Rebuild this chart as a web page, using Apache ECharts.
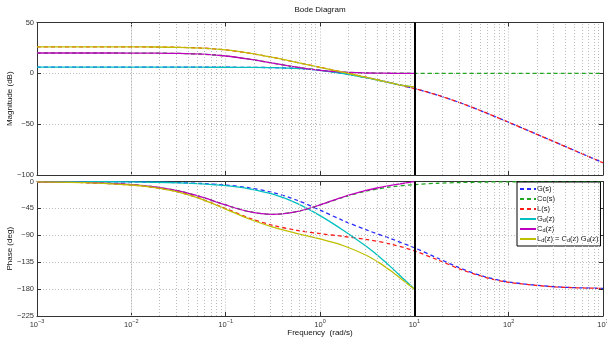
<!DOCTYPE html>
<html>
<head>
<meta charset="utf-8">
<script src="https://cdn.jsdelivr.net/npm/echarts@6/dist/echarts.min.js"></script>
<style>
  html, body { margin: 0; padding: 0; background: #fff; }
  #chart { width: 607px; height: 338px; }
</style>
</head>
<body>
<div id="chart"></div>
<script>
// continuous-time responses (rad/s, dB, deg)
const freqS = [0.001, 0.003162, 0.01, 0.01778, 0.03162, 0.05623, 0.1, 0.1778, 0.3162, 0.5623,
  1, 1.778, 3.162, 5.623, 10, 17.78, 31.62, 56.23, 100, 316.2, 1000]
const magG = [6.02, 6.02, 6.02, 6.02, 6.02, 6.01, 5.98, 5.88, 5.61, 4.82,
  3.0, -0.21, -4.5, -9.45, -14.99, -21.52, -29.43, -38.48, -48.13, -67.98, -87.96]
const phG = [-0.06, -0.19, -0.6, -1.07, -1.9, -3.38, -6.0, -10.59, -18.45, -30.96,
  -47.86, -65.73, -81.44, -95.62, -110.86, -128.43, -145.88, -159.4, -168.12, -176.2, -178.8]
const magCc = [20.0, 20.0, 19.96, 19.87, 19.59, 18.82, 17.03, 13.94, 10.0, 6.06,
  2.97, 1.18, 0.41, 0.13, 0.04, 0.01, 0, 0, 0, 0, 0]
const phCc = [-0.52, -1.63, -5.14, -9.07, -15.74, -26.13, -39.29, -50.57, -54.9, -50.57,
  -39.29, -26.13, -15.74, -9.07, -5.14, -2.9, -1.63, -0.92, -0.52, -0.16, -0.05]
const magL = [26.02, 26.02, 25.98, 25.89, 25.61, 24.83, 23.01, 19.83, 15.61, 10.88,
  5.97, 0.97, -4.09, -9.31, -14.95, -21.51, -29.42, -38.48, -48.13, -67.98, -87.96]
const phL = [-0.58, -1.82, -5.74, -10.13, -17.64, -29.51, -45.29, -61.16, -73.36, -81.53,
  -87.15, -91.86, -97.17, -104.69, -115.99, -131.32, -147.51, -160.32, -168.63, -176.36, -178.85]

// discrete-time responses, up to the Nyquist frequency
const freqZ = [0.001, 0.003162, 0.01, 0.01778, 0.03162, 0.05623, 0.1, 0.1778, 0.3162, 0.5623,
  1, 1.778, 3.162, 4.217, 5.623, 7.499, 8.913, 10]
const magGd = [6.02, 6.02, 6.02, 6.02, 6.02, 6.01, 5.98, 5.88, 5.61, 4.82,
  2.99, -0.23, -4.55, -6.97, -9.46, -11.8, -12.79, -13.03]
const phGd = [-0.07, -0.21, -0.69, -1.23, -2.18, -3.89, -6.9, -12.19, -21.3, -36.12,
  -57.01, -81.91, -109.69, -125.44, -142.84, -161.33, -172.42, -180]
const magCd = [20.0, 20.0, 19.96, 19.87, 19.59, 18.82, 17.03, 13.94, 10.0, 6.05,
  2.93, 1.13, 0.35, 0.17, 0.07, 0.02, 0.0, 0.0]
const phCd = [-0.52, -1.63, -5.14, -9.07, -15.74, -26.13, -39.29, -50.57, -54.9, -50.53,
  -39.1, -25.57, -14.5, -10.23, -6.61, -3.35, -1.4, 0]
const magLd = [26.02, 26.02, 25.98, 25.89, 25.61, 24.83, 23.01, 19.82, 15.61, 10.87,
  5.92, 0.9, -4.2, -6.8, -9.39, -11.78, -12.79, -13.03]
const phLd = [-0.59, -1.84, -5.83, -10.3, -17.92, -30.02, -46.19, -62.76, -76.2, -86.65,
  -96.11, -107.48, -124.19, -135.67, -149.45, -164.68, -173.82, -180]

const nyquist = 10
const magTicks = { min: -100, max: 50, interval: 50 }
const phTicks = { min: -225, max: 0, interval: 45 }

const font = "'Liberation Sans', Arial, sans-serif"
const frameColor = '#333'
const gridColor = '#bbb'

// minor log grid lines (2..9 per decade)
const minorX = []
for (let e = -3; e < 3; e++) {
  for (let k = 2; k <= 9; k++) minorX.push(k * Math.pow(10, e))
}

const zip = (xs, ys) => xs.map((x, i) => [x, ys[i]])

function xAxis(gridIndex, position, labels) {
  return {
    type: 'log', logBase: 10, min: 0.001, max: 1000, gridIndex, position,
    axisLine: { show: true, onZero: false, lineStyle: { color: frameColor, width: 1 } },
    axisTick: { show: true, inside: true, length: 4, lineStyle: { color: frameColor } },
    splitLine: { show: position === 'bottom', lineStyle: { color: gridColor, type: [1, 2] } },
    axisLabel: labels ? {
      show: true, margin: 2, fontFamily: font, color: '#333',
      formatter: v => '{b|10}{s|' + String(Math.round(Math.log10(v))).replace('-', '\u2212') + '}',
      rich: {
        b: { fontSize: 7.5, fontFamily: font, color: '#333', verticalAlign: 'bottom', lineHeight: 11 },
        s: { fontSize: 5.5, fontFamily: font, color: '#333', verticalAlign: 'top', lineHeight: 7 }
      }
    } : { show: false },
    name: labels ? 'Frequency  (rad/s)' : '',
    nameLocation: 'middle', nameGap: 13, nameMoveOverlap: false,
    nameTextStyle: { fontFamily: font, fontSize: 8, color: '#111' }
  }
}

function yAxis(gridIndex, position, ticks, name) {
  const left = position === 'left'
  return {
    type: 'value', gridIndex, position, ...ticks,
    axisLine: { show: true, onZero: false, lineStyle: { color: frameColor, width: 1 } },
    axisTick: { show: true, inside: true, length: 4, lineStyle: { color: frameColor } },
    splitLine: { show: left, lineStyle: { color: gridColor, type: [1, 2] } },
    axisLabel: left ? {
      show: true, margin: 3, fontFamily: font, fontSize: 7.5, color: '#333',
      formatter: v => String(v).replace('-', '\u2212')
    } : { show: false },
    name: left ? name : '', nameLocation: 'middle', nameGap: 23, nameRotate: 90,
    nameMoveOverlap: false,
    nameTextStyle: { fontFamily: font, fontSize: 8, color: '#111' }
  }
}

function curve(name, xs, ys, color, dashed, axis) {
  return {
    name, type: 'line', xAxisIndex: axis, yAxisIndex: axis,
    data: zip(xs, ys), showSymbol: false, symbol: 'none', smooth: 0.3,
    lineStyle: { color, width: 1.3, type: dashed ? [4, 3] : 'solid' },
    itemStyle: { color }, silent: true, z: 3
  }
}

function guides(axis, xs, ys) {
  return {
    type: 'line', xAxisIndex: axis, yAxisIndex: axis, data: zip(xs, ys),
    showSymbol: false, symbol: 'none', lineStyle: { opacity: 0 }, silent: true, z: 1,
    markLine: {
      silent: true, symbol: 'none', label: { show: false }, animation: false,
      lineStyle: { color: gridColor, type: [1, 2], width: 1 },
      data: minorX.map(v => ({ xAxis: v }))
    }
  }
}

function nyquistLine(axis, xs, ys) {
  return {
    type: 'line', xAxisIndex: axis, yAxisIndex: axis, data: zip(xs, ys),
    showSymbol: false, symbol: 'none', lineStyle: { opacity: 0 }, silent: true, z: 5,
    markLine: {
      silent: true, symbol: 'none', label: { show: false }, animation: false,
      lineStyle: { color: '#000', type: 'solid', width: 2 },
      data: [{ xAxis: nyquist }]
    }
  }
}

const colors = {
  G: '#2a2aff', Cc: '#20a820', L: '#ff1a1a',
  Gd: '#00bfbf', Cd: '#bf00bf', Ld: '#bfbf00'
}
const names = ['G(s)', 'Cc(s)', 'L(s)', 'Gd(z)', 'Cd(z)', 'Ld(z)']
const legendText = {
  'G(s)': 'G(s)', 'Cc(s)': 'Cc(s)', 'L(s)': 'L(s)',
  'Gd(z)': 'G{sub|d}(z)', 'Cd(z)': 'C{sub|d}(z)',
  'Ld(z)': 'L{sub|d}(z) = C{sub|d}(z) G{sub|d}(z)'
}

const chart = echarts.init(document.getElementById('chart'), null, { renderer: 'canvas' })

const option = {
  animation: false,
  backgroundColor: '#fff',
  graphic: [{
    type: 'text', x: 320, y: 6,
    style: { text: 'Bode Diagram', fontFamily: font, fontSize: 8, fill: '#111', textAlign: 'center' }
  }],
  grid: [
    { left: 37, right: 4, top: 22.5, height: 152.5, containLabel: false, outerBoundsMode: 'none' },
    { left: 37, right: 4, top: 181.5, height: 134.5, containLabel: false, outerBoundsMode: 'none' }
  ],
  xAxis: [xAxis(0, 'bottom', false), xAxis(0, 'top', false), xAxis(1, 'bottom', true), xAxis(1, 'top', false)],
  yAxis: [
    yAxis(0, 'left', magTicks, 'Magnitude (dB)'), yAxis(0, 'right', magTicks),
    yAxis(1, 'left', phTicks, 'Phase (deg)'), yAxis(1, 'right', phTicks)
  ],
  legend: {
    data: names, orient: 'vertical', left: 517, top: 182,
    itemWidth: 16, itemHeight: 8, itemGap: 2,
    padding: [3, 2, 3, 2], borderColor: '#000', borderWidth: 1, backgroundColor: '#fff',
    selectedMode: false,
    itemStyle: { opacity: 0 },
    formatter: n => legendText[n],
    textStyle: {
      fontFamily: font, fontSize: 7.5, color: '#111', padding: [0, 0, 0, -4],
      rich: { sub: { fontSize: 5.5, fontFamily: font, color: '#111', verticalAlign: 'bottom', lineHeight: 7 } }
    }
  },
  series: [
    guides(0, freqS, magG),
    guides(2, freqS, phG),
    curve('G(s)', freqS, magG, colors.G, true, 0),
    curve('Cc(s)', freqS, magCc, colors.Cc, true, 0),
    curve('L(s)', freqS, magL, colors.L, true, 0),
    curve('Gd(z)', freqZ, magGd, colors.Gd, false, 0),
    curve('Cd(z)', freqZ, magCd, colors.Cd, false, 0),
    curve('Ld(z)', freqZ, magLd, colors.Ld, false, 0),
    curve('G(s)', freqS, phG, colors.G, true, 2),
    curve('Cc(s)', freqS, phCc, colors.Cc, true, 2),
    curve('L(s)', freqS, phL, colors.L, true, 2),
    curve('Gd(z)', freqZ, phGd, colors.Gd, false, 2),
    curve('Cd(z)', freqZ, phCd, colors.Cd, false, 2),
    curve('Ld(z)', freqZ, phLd, colors.Ld, false, 2),
    nyquistLine(0, freqS, magG),
    nyquistLine(2, freqS, phG)
  ]
}

chart.setOption(option)
</script>
</body>
</html>
